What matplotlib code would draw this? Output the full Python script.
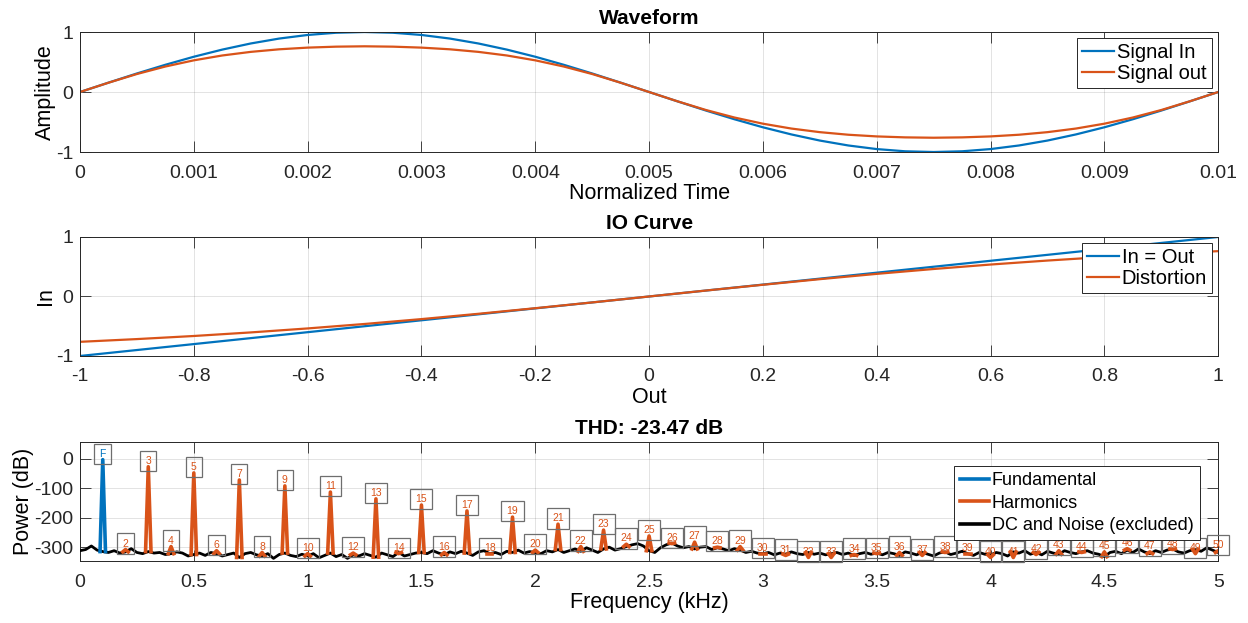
import numpy as np
import matplotlib
matplotlib.use('Agg')
import matplotlib.pyplot as plt

plt.rcParams['font.family'] = ['Liberation Sans', 'DejaVu Sans']
plt.rcParams['axes.unicode_minus'] = False

# ── colours (MATLAB default order) ──
BLUE = '#0072BD'
ORANGE = '#D95319'
AXC = '#262626'

# ── Waveform (one period, 41 samples) ──
t = [i * 0.00025 for i in range(41)]
sig_in = [0, 0.156, 0.309, 0.454, 0.588, 0.707, 0.809, 0.891, 0.951, 0.988, 1.0,
          0.988, 0.951, 0.891, 0.809, 0.707, 0.588, 0.454, 0.309, 0.156, 0,
          -0.156, -0.309, -0.454, -0.588, -0.707, -0.809, -0.891, -0.951, -0.988, -1.0,
          -0.988, -0.951, -0.891, -0.809, -0.707, -0.588, -0.454, -0.309, -0.156, 0]
sig_out = [0, 0.155, 0.300, 0.425, 0.528, 0.609, 0.669, 0.712, 0.740, 0.756, 0.762,
           0.756, 0.740, 0.712, 0.669, 0.609, 0.528, 0.425, 0.300, 0.155, 0,
           -0.155, -0.300, -0.425, -0.528, -0.609, -0.669, -0.712, -0.740, -0.756, -0.762,
           -0.756, -0.740, -0.712, -0.669, -0.609, -0.528, -0.425, -0.300, -0.155, 0]

# ── IO curve ──
io_x = [-1.0, -0.9, -0.8, -0.7, -0.6, -0.5, -0.4, -0.3, -0.2, -0.1, 0,
        0.1, 0.2, 0.3, 0.4, 0.5, 0.6, 0.7, 0.8, 0.9, 1.0]
io_dist = [-0.762, -0.716, -0.664, -0.604, -0.537, -0.462, -0.380, -0.291, -0.197, -0.100, 0,
           0.100, 0.197, 0.291, 0.380, 0.462, 0.537, 0.604, 0.664, 0.716, 0.762]

# ── Spectrum ──
noise_f = [i * 0.025 for i in range(201)]
noise_db = [
    -312, -308, -296, -310, -315, -318, -312, -320, -316, -305, -318, -322, -315, -320, -318, -325, -322, -316, -320, -330,
    -325, -320, -328, -318, -322, -330, -325, -320, -335, -322, -318, -326, -330, -322, -338, -325, -320, -328, -332, -324,
    -330, -322, -336, -328, -320, -332, -325, -338, -326, -330, -322, -328, -334, -320, -326, -332, -318, -330, -325, -320,
    -318, -322, -312, -320, -326, -316, -322, -314, -320, -328, -316, -312, -322, -318, -325, -314, -318, -310, -320, -315,
    -318, -322, -312, -316, -308, -318, -312, -306, -314, -302, -310, -318, -306, -300, -310, -305, -298, -292, -288, -296,
    -312, -318, -302, -292, -286, -296, -302, -298, -306, -300, -298, -308, -302, -306, -312, -305, -310, -318, -314, -320,
    -322, -318, -326, -320, -324, -316, -322, -325, -318, -324, -320, -326, -322, -318, -325, -320, -328, -322, -318, -324,
    -320, -326, -318, -322, -328, -316, -320, -326, -318, -324, -330, -320, -316, -325, -320, -314, -322, -328, -318, -324,
    -326, -318, -322, -330, -316, -320, -312, -324, -318, -326, -314, -320, -324, -312, -318, -322, -316, -312, -320, -324,
    -332, -318, -314, -322, -310, -318, -306, -316, -322, -312, -318, -310, -306, -316, -320, -312, -308, -314, -302, -310,
    -318]
fund_f = 0.1
fund_db = -3
harm_order = list(range(2, 51))
harm_db = [-308, -27, -298, -48, -312, -72, -318, -92, -322, -113,
           -320, -136, -322, -157, -318, -177, -322, -198, -310, -222,
           -298, -242, -290, -262, -288, -283, -300, -298, -322, -328,
           -335, -335, -325, -322, -318, -328, -318, -322, -335, -335,
           -325, -312, -318, -316, -305, -316, -308, -322, -312]
thd_db = -23.47

TICK_FS = 14
LABEL_FS = 15.5
TITLE_FS = 15
LEG_FS = 14.5


def style_axes(ax):
    ax.grid(True, color='#000000', alpha=0.13, linewidth=0.6)
    ax.set_axisbelow(True)
    ax.tick_params(direction='in', length=8, width=0.6, top=True, right=True,
                   labelsize=TICK_FS, colors=AXC)
    ax.tick_params(axis='x', pad=9)
    ax.tick_params(axis='y', pad=5)
    for s in ax.spines.values():
        s.set_color(AXC)
        s.set_linewidth(0.7)


def add_legend(ax, borderaxespad=0.3, fontsize=LEG_FS, labelspacing=0.1,
               borderpad=0.25, **kw):
    leg = ax.legend(fontsize=fontsize, fancybox=False, edgecolor=AXC, framealpha=1,
                    handlelength=1.6, handletextpad=0.15, labelspacing=labelspacing,
                    borderpad=borderpad, borderaxespad=borderaxespad, **kw)
    leg.get_frame().set_linewidth(0.7)
    return leg


fig = plt.figure(figsize=(12.48, 6.23), dpi=100)

# 1. Waveform
ax1 = fig.add_axes([0.0641, 0.756, 0.912, 0.1926])
ax1.plot(t, sig_in, color=BLUE, lw=1.6, label='Signal In')
ax1.plot(t, sig_out, color=ORANGE, lw=1.6, label='Signal out')
ax1.set_xlim(0, 0.01)
ax1.set_ylim(-1, 1)
ax1.set_xticks([i * 0.001 for i in range(11)])
ax1.set_xticklabels(['0'] + [f'{i * 0.001:.3f}' for i in range(1, 10)] + ['0.01'])
ax1.set_yticks([-1, 0, 1])
ax1.set_title('Waveform', fontsize=TITLE_FS, fontweight='bold', pad=6)
ax1.set_xlabel('Normalized Time', fontsize=LABEL_FS, labelpad=1)
ax1.set_ylabel('Amplitude', fontsize=LABEL_FS, labelpad=0)
style_axes(ax1)
add_legend(ax1, loc='upper right')

# 2. IO Curve
ax2 = fig.add_axes([0.0641, 0.4286, 0.912, 0.191])
ax2.plot(io_x, io_x, color=BLUE, lw=1.6, label='In = Out')
ax2.plot(io_x, io_dist, color=ORANGE, lw=1.6, label='Distortion')
ax2.set_xlim(-1, 1)
ax2.set_ylim(-1, 1)
ax2.set_xticks([-1, -0.8, -0.6, -0.4, -0.2, 0, 0.2, 0.4, 0.6, 0.8, 1])
ax2.set_xticklabels(['-1', '-0.8', '-0.6', '-0.4', '-0.2', '0', '0.2', '0.4', '0.6', '0.8', '1'])
ax2.set_yticks([-1, 0, 1])
ax2.set_title('IO Curve', fontsize=TITLE_FS, fontweight='bold', pad=6)
ax2.set_xlabel('Out', fontsize=LABEL_FS, labelpad=1)
ax2.set_ylabel('In', fontsize=LABEL_FS, labelpad=0)
style_axes(ax2)
add_legend(ax2, loc='upper right')

# 3. Spectrum / THD
ax3 = fig.add_axes([0.0641, 0.0995, 0.912, 0.191])
ax3.plot(noise_f, noise_db, color='black', lw=2.0, zorder=3, label='DC and Noise (excluded)')
dw = 0.012
fb = noise_db[4]
ax3.plot([fund_f - dw, fund_f, fund_f + dw], [fb, fund_db, fb], color=BLUE, lw=2.6,
         zorder=4, label='Fundamental')
for k, db in zip(harm_order, harm_db):
    f = 0.1 * k
    base = noise_db[min(4 * k, len(noise_db) - 1)]
    ax3.plot([f - dw, f, f + dw], [base, db, base], color=ORANGE, lw=2.6, zorder=4,
             label='Harmonics' if k == 2 else None)

box = dict(boxstyle='square,pad=0.5', facecolor='none', edgecolor='#6e6e6e', linewidth=0.9)
ax3.text(fund_f, fund_db + 20, 'F', fontsize=7.5, color=BLUE, ha='center', va='center',
         bbox=box, zorder=5)
for k, db in zip(harm_order, harm_db):
    ax3.text(0.1 * k, db + 20, str(k), fontsize=7.5, color=ORANGE, ha='center',
             va='center', bbox=box, zorder=5)

ax3.set_xlim(0, 5)
ax3.set_ylim(-347, 57)
ax3.set_xticks([0, 0.5, 1, 1.5, 2, 2.5, 3, 3.5, 4, 4.5, 5])
ax3.set_xticklabels(['0', '0.5', '1', '1.5', '2', '2.5', '3', '3.5', '4', '4.5', '5'])
ax3.set_yticks([-300, -200, -100, 0])
ax3.set_title(f'THD: {thd_db:.2f} dB', fontsize=TITLE_FS, fontweight='bold', pad=6)
ax3.set_xlabel('Frequency (kHz)', fontsize=LABEL_FS, labelpad=1)
ax3.set_ylabel('Power (dB)', fontsize=LABEL_FS, labelpad=0)
style_axes(ax3)
h, l = ax3.get_legend_handles_labels()
order = [l.index('Fundamental'), l.index('Harmonics'), l.index('DC and Noise (excluded)')]
leg3 = add_legend(ax3, borderaxespad=0, fontsize=13, labelspacing=0.3, borderpad=0.35,
                  handles=[h[i] for i in order], labels=[l[i] for i in order],
                  loc='upper right', bbox_to_anchor=(0.984, 0.8))
for ln in leg3.get_lines():
    ln.set_linewidth(2.6)

fig.savefig('out.png', dpi=100)
